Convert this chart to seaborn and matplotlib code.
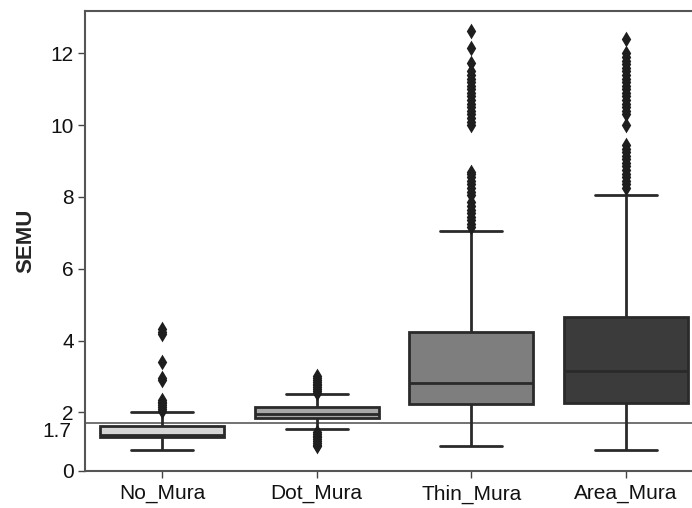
import numpy as np
import pandas as pd
import matplotlib
matplotlib.use("Agg")
import matplotlib.pyplot as plt
import matplotlib.transforms as mtransforms
import seaborn as sns

categories = ["No_Mura", "Dot_Mura", "Thin_Mura", "Area_Mura"]
whisker_low = [0.95, 1.53, 1.06, 0.95]
q1 = [1.32, 1.83, 2.23, 2.27]
median = [1.38, 1.96, 2.81, 3.15]
q3 = [1.62, 2.16, 4.25, 4.65]
whisker_high = [2.00, 2.50, 7.06, 8.06]

outliers = {
    "No_Mura": [2.05, 2.1, 2.15, 2.2, 2.25, 2.3, 2.35, 2.9, 2.97, 3.39, 4.17, 4.25, 4.32],
    "Dot_Mura": [2.55, 2.6, 2.65, 2.7, 2.75, 2.8, 2.85, 2.9, 2.95, 3.0,
                 1.46, 1.4, 1.35, 1.3, 1.25, 1.2, 1.15, 1.1, 1.06],
    "Thin_Mura": [7.15, 7.25, 7.35, 7.45, 7.55, 7.65, 7.75, 7.85, 8.05, 8.15, 8.25,
                  8.35, 8.45, 8.55, 8.65, 8.7,
                  10.0, 10.1, 10.2, 10.3, 10.4, 10.5, 10.6, 10.7, 10.8, 10.9,
                  11.0, 11.1, 11.2, 11.3, 11.4, 11.5, 11.72, 12.14, 12.62],
    "Area_Mura": [8.25, 8.35, 8.45, 8.55, 8.65, 8.75, 8.85, 8.95, 9.05, 9.15, 9.25,
                  9.35, 9.45, 10.0,
                  10.3, 10.4, 10.5, 10.6, 10.7, 10.8, 10.9, 11.0, 11.1, 11.2, 11.3,
                  11.4, 11.5, 11.6, 11.7, 11.8, 11.9, 12.0, 12.39],
}

fills = ["#d6d6d6", "#a8a8a8", "#7e7e7e", "#3b3b3b"]
threshold = 1.7
threshold_label = "1.7"
ytick_values = [2, 4, 6, 8, 10, 12]

# Build a table whose quartiles/whisker ends equal the read statistics
rows = []
for i, c in enumerate(categories):
    for v in [whisker_low[i], q1[i], q1[i], median[i], q3[i], q3[i], whisker_high[i]]:
        rows.append({"cat": c, "SEMU": v})
box_df = pd.DataFrame(rows)
flier_df = pd.DataFrame([{"cat": c, "SEMU": v} for c in categories for v in outliers[c]])

sns.set_style("white")
plt.rcParams["font.family"] = ["Liberation Sans", "DejaVu Sans"]

fig = plt.figure(figsize=(6.92, 5.08), dpi=100)
ax = fig.add_axes([85 / 692, 1 - 470.5 / 508, (703 - 85) / 692, (470.5 - 10.7) / 508])

sns.boxplot(data=box_df, x="cat", y="SEMU", hue="cat", order=categories,
            hue_order=categories, palette=fills, legend=False, whis=(0, 100),
            width=0.8, linewidth=2, linecolor="#2a2a2a", ax=ax, saturation=1)
sns.stripplot(data=flier_df, x="cat", y="SEMU", order=categories, jitter=False,
              marker="d", size=8, color="#1e1e1e", linewidth=0, ax=ax, zorder=3)

ax.axhline(threshold, color="#5a5a5a", lw=1.2, zorder=1.5)

ymin, ymax = 0.379, 13.19
ax.set_ylim(ymin, ymax)
ax.set_xlim(-0.5, 3.5)
ax.set_yticks([ymin] + ytick_values)
ax.set_yticklabels(["0"] + [str(v) for v in ytick_values])
ax.tick_params(axis="both", which="both", length=5, width=1, color="#444444",
               labelsize=15, labelcolor="#111111", left=True, bottom=True)
ax.tick_params(axis="y", pad=3)
ax.tick_params(axis="x", pad=5)

# threshold label (no tick mark), slightly below the line as in the reference
trans = mtransforms.blended_transform_factory(ax.transAxes, ax.transData) + \
    mtransforms.ScaledTranslation(-10 / 72, -6 / 72, fig.dpi_scale_trans)
ax.text(0, threshold, threshold_label, transform=trans, ha="right", va="center",
        fontsize=15, color="#111111")

ax.set_xlabel("")
ax.set_ylabel("SEMU", fontsize=16, fontweight="bold", labelpad=10)
for s in ax.spines.values():
    s.set_color("#555555")
    s.set_linewidth(1.5)

fig.savefig("out.png", dpi=100)
